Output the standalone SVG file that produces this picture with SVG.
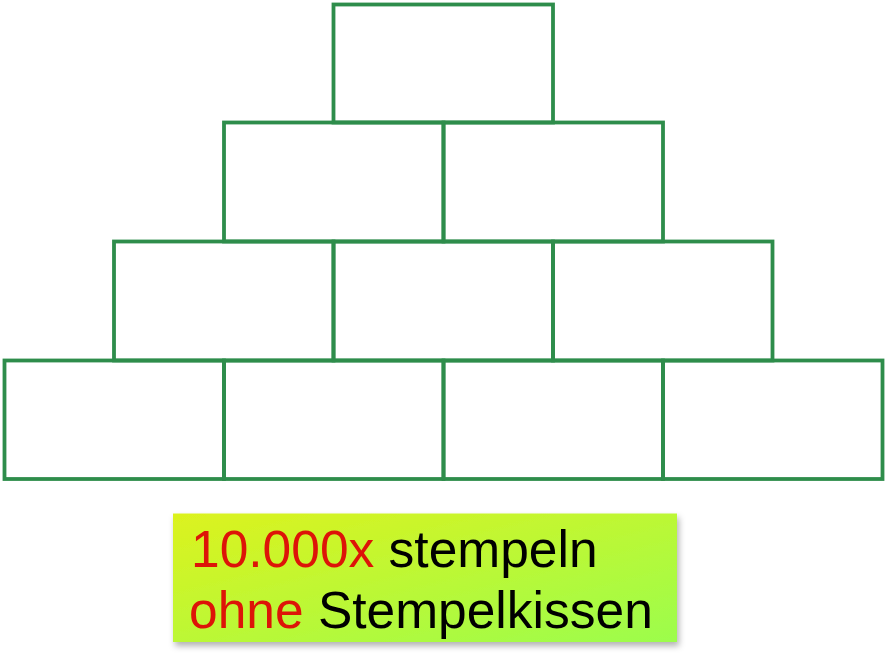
<svg xmlns="http://www.w3.org/2000/svg" width="888" height="657" viewBox="0 0 888 657">
<style>
.brick{fill:none;stroke:#2e8d4b;stroke-width:3.8}
.lbl{font-family:"Liberation Sans",Arial,sans-serif;font-size:51.5px}
.red{fill:#dd1408}
.blk{fill:#000}
</style>
<defs>
<linearGradient id="g" x1="0" y1="0" x2="1" y2="1">
<stop offset="0" stop-color="#dcf21e"/>
<stop offset="1" stop-color="#9cfd4c"/>
</linearGradient>
<filter id="sh" x="-10%" y="-10%" width="120%" height="130%">
<feDropShadow dx="2" dy="4" stdDeviation="3" flood-color="#000" flood-opacity="0.3"/>
</filter>
</defs>
<rect width="888" height="657" fill="#fff"/>
<g id="row1">
<rect id="b1" class="brick" x="333.5" y="4.5" width="219.5" height="118"/>
</g>
<g id="row2">
<rect id="b2" class="brick" x="224" y="122.5" width="219.5" height="119"/>
<rect id="b3" class="brick" x="443.5" y="122.5" width="219.5" height="119"/>
</g>
<g id="row3">
<rect id="b4" class="brick" x="114" y="241.5" width="219.5" height="119"/>
<rect id="b5" class="brick" x="333.5" y="241.5" width="219.5" height="119"/>
<rect id="b6" class="brick" x="553" y="241.5" width="219.5" height="119"/>
</g>
<g id="row4">
<rect id="b7" class="brick" x="4.5" y="360.5" width="219.5" height="118.5"/>
<rect id="b8" class="brick" x="224" y="360.5" width="219.5" height="118.5"/>
<rect id="b9" class="brick" x="443.5" y="360.5" width="219.5" height="118.5"/>
<rect id="b10" class="brick" x="663" y="360.5" width="219.5" height="118.5"/>
</g>
<g id="label">
<rect x="173" y="513.5" width="504" height="128.5" fill="url(#g)" filter="url(#sh)"/>
<text class="lbl" x="191" y="567"><tspan class="red">10.000x</tspan><tspan class="blk"> stempeln</tspan></text>
<text class="lbl" x="189" y="628"><tspan class="red">ohne</tspan><tspan class="blk"> Stempelkissen</tspan></text>
</g>
</svg>
